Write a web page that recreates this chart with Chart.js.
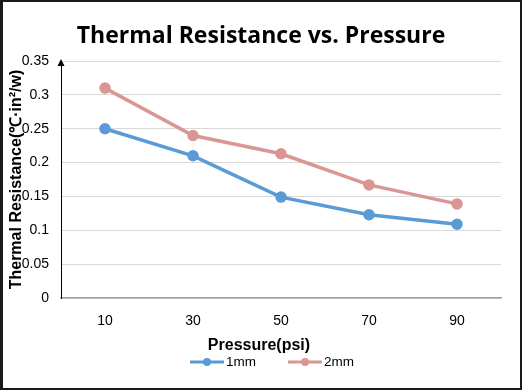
<!DOCTYPE html>
<html>
<head>
<meta charset="utf-8">
<script src="https://cdn.jsdelivr.net/npm/chart.js@4.4.1/dist/chart.umd.min.js"></script>
<style>
  html, body { margin: 0; padding: 0; background: #fff; }
  #wrap { width: 522px; height: 390px; }
</style>
</head>
<body>
<div id="wrap"><canvas id="myChart" width="522" height="390"></canvas></div>
<script>
const pressure = ["10", "30", "50", "70", "90"];
const res1mm = [0.25, 0.21, 0.149, 0.123, 0.109];
const res2mm = [0.31, 0.24, 0.213, 0.167, 0.139];
const yTicks = [0, 0.05, 0.1, 0.15, 0.2, 0.25, 0.3, 0.35];
const xTitle = "Pressure(psi)";

const blue = "rgb(91, 155, 213)";
const pink = "rgb(218, 150, 148)";
const sans = "'Liberation Sans', Arial, sans-serif";

const ctx = document.getElementById("myChart").getContext("2d");

// white background, frame, arrow on the y axis, x title and the legend at the bottom
const extras = {
  id: "extras",
  beforeDraw(chart) {
    const c = chart.ctx;
    c.save();
    c.fillStyle = "#fff";
    c.fillRect(0, 0, chart.width, chart.height);
    c.restore();
  },
  afterDraw(chart) {
    const c = chart.ctx;
    const area = chart.chartArea;
    c.save();
    // arrow head
    c.fillStyle = "#000";
    c.beginPath();
    c.moveTo(area.left, area.top - 2);
    c.lineTo(area.left - 3.5, area.top + 5);
    c.lineTo(area.left + 3.5, area.top + 5);
    c.closePath();
    c.fill();

    // x axis title, centred on the page like the chart title
    c.font = "bold 16px " + sans;
    c.textAlign = "center";
    c.textBaseline = "middle";
    c.fillText(xTitle, 259, 346);

    // legend
    c.font = "13.5px " + sans;
    c.textAlign = "left";
    const lineLen = 34, gap = 2, itemGap = 32, y = 362;
    const items = chart.data.datasets.map((d) => ({ d, w: c.measureText(d.label).width }));
    let total = 0;
    items.forEach((it, i) => { total += lineLen + gap + it.w + (i ? itemGap : 0); });
    let x = 272 - total / 2;
    items.forEach((it) => {
      c.strokeStyle = it.d.borderColor;
      c.lineWidth = 3;
      c.beginPath();
      c.moveTo(x, y);
      c.lineTo(x + lineLen, y);
      c.stroke();
      c.fillStyle = it.d.borderColor;
      c.beginPath();
      c.arc(x + lineLen / 2, y, 4, 0, Math.PI * 2);
      c.fill();
      c.fillStyle = "#000";
      c.fillText(it.d.label, x + lineLen + gap, y);
      x += lineLen + gap + it.w + itemGap;
    });

    // frame
    c.fillStyle = "#1a1a1a";
    c.fillRect(0, 0, 3, chart.height);
    c.fillRect(0, 0, chart.width, 2);
    c.fillRect(chart.width - 2, 0, 2, chart.height);
    c.fillRect(0, chart.height - 2, chart.width, 2);
    c.restore();
  },
};

const myChart = new Chart(ctx, {
  type: "line",
  data: {
    labels: pressure,
    datasets: [
      {
        label: "1mm",
        data: res1mm,
        borderColor: blue,
        backgroundColor: blue,
        borderWidth: 3.5,
        pointRadius: 4,
        pointHoverRadius: 4,
        tension: 0,
      },
      {
        label: "2mm",
        data: res2mm,
        borderColor: pink,
        backgroundColor: pink,
        borderWidth: 3.5,
        pointRadius: 4,
        pointHoverRadius: 4,
        tension: 0,
      },
    ],
  },
  options: {
    responsive: false,
    animation: false,
    layout: { padding: { top: 3, left: 0, right: 0, bottom: 32 } },
    plugins: {
      legend: { display: false },
      tooltip: { enabled: false },
      title: {
        display: true,
        text: "Thermal Resistance vs. Pressure",
        color: "#000",
        font: { family: "'Open Sans', sans-serif", size: 23, weight: "bold" },
        padding: { top: 20, bottom: 10.4 },
      },
    },
    scales: {
      x: {
        offset: true,
        grid: { display: false, drawTicks: false },
        border: { display: true, color: "#a0a0a0", width: 1.5 },
        ticks: { color: "#000", font: { family: sans, size: 14 }, padding: 15 },
        afterFit(scale) { scale.height = 60; },
      },
      y: {
        min: 0,
        max: 0.35,
        afterBuildTicks(scale) { scale.ticks = yTicks.map((v) => ({ value: v })); },
        grid: { color: "#d9d9d9", lineWidth: 1, drawTicks: false },
        border: { display: true, color: "#000", width: 1 },
        ticks: {
          color: "#000",
          font: { family: sans, size: 14 },
          padding: 12,
          callback: (v) => String(+v.toFixed(2)),
        },
        title: {
          display: true,
          text: "Thermal Resistance(℃·in²/w)",
          color: "#000",
          font: { family: sans, size: 16, weight: "bold" },
          padding: { top: 7.4, bottom: 0 },
        },
        afterFit(scale) { scale.width = 61; },
      },
      // empty right-hand gutter so the plot stops where the reference does
      gutter: {
        position: "right",
        grid: { display: false, drawTicks: false },
        border: { display: false },
        ticks: { display: false },
        afterFit(scale) { scale.width = 21; },
      },
    },
  },
  plugins: [extras],
});
</script>
</body>
</html>
